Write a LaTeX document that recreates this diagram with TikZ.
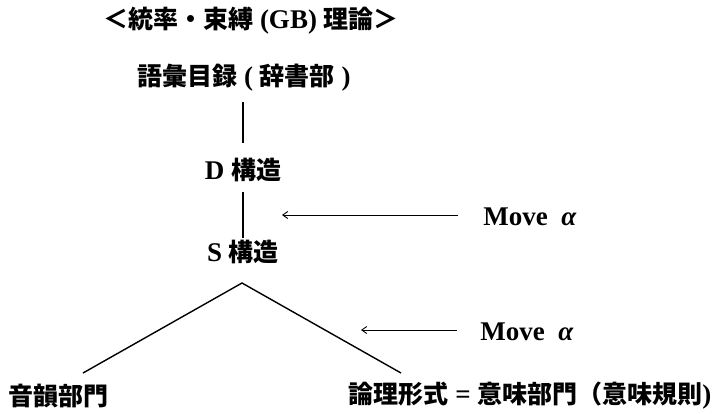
\documentclass[tikz,border=0pt]{standalone}
\usepackage{fontspec}
\setmainfont{Liberation Serif}
\newfontfamily\jpf{Noto Sans CJK JP}
\usetikzlibrary{arrows.meta}
\newcommand\J[1]{{\fontsize{25}{30}\selectfont\jpf\bfseries #1}}
\tikzset{
  lbl/.style={inner sep=0pt, font=\fontsize{27}{30}\selectfont\bfseries},
  ln/.style={line width=1.4pt},
  arr/.style={line width=0.9pt, -{Straight Barb[length=5pt,width=7pt]}}
}
\begin{document}
\begin{tikzpicture}[x=1pt,y=-1pt]
\useasboundingbox (0,0) rectangle (720,413);
\node[lbl] (title) at (251,21) {\J{＜統率・束縛} (GB) \J{理論＞}};
\node[lbl] (lex) at (244,78) {\J{語彙目録} ( \J{辞書部} )};
\node[lbl] (D) at (243,170) {D \J{構造}};
\node[lbl] (S) at (243,252) {S \J{構造}};
\node[lbl] (m1) at (530,217) {Move \ \textit{α}};
\node[lbl] (m2) at (527,332) {Move \ \textit{α}};
\node[lbl] (pf) at (59,396) {\J{音韻部門}};
\node[lbl] (lf) at (530,396) {\J{論理形式} = \J{意味部門（意味規則}) };
\coordinate (apex) at (242,283);
\coordinate (lend) at (83,373);
\coordinate (rend) at (401,373);
\coordinate (a1h) at (282,215);
\coordinate (a1t) at (458,215);
\coordinate (a2h) at (361,330);
\coordinate (a2t) at (457,330);
\draw[ln, shorten <=10pt, shorten >=15pt] (lex.south -| D.north) -- (D.north);
\draw[ln, shorten <=10pt, shorten >=2pt] (D.south) -- (S.north);
\draw[ln] (lend) -- (apex) -- (rend);
\draw[arr] (a1t) -- (a1h);
\draw[arr] (a2t) -- (a2h);
\end{tikzpicture}
\end{document}
